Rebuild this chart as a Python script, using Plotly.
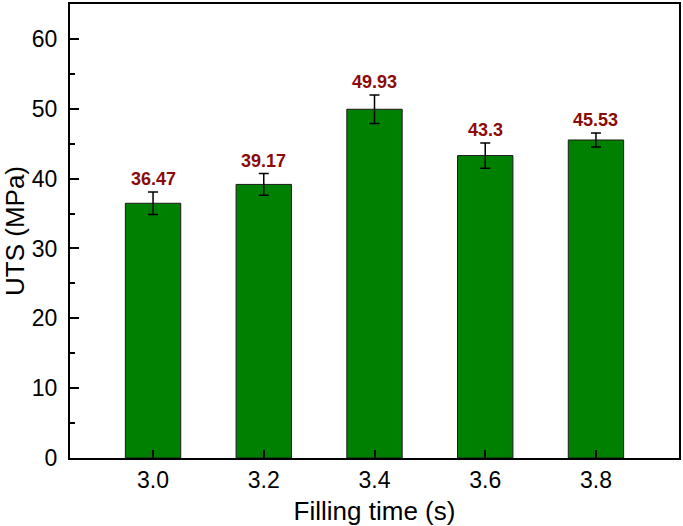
import plotly.graph_objects as go

filling_time = [3.0, 3.2, 3.4, 3.6, 3.8]
tick_text = ["3.0", "3.2", "3.4", "3.6", "3.8"]
uts = [36.47, 39.17, 49.93, 43.3, 45.53]
uts_err = [1.6, 1.55, 2.03, 1.8, 1.0]
labels = ["36.47", "39.17", "49.93", "43.3", "45.53"]

fig = go.Figure()
fig.add_trace(go.Bar(
    x=filling_time, y=uts, width=0.1,
    marker=dict(color="#008000", line=dict(color="#1a1a1a", width=1)),
    error_y=dict(type="data", array=uts_err, visible=True, color="black", thickness=1.5, width=5),
    showlegend=False,
))
for xv, yv, ev, lab in zip(filling_time, uts, uts_err, labels):
    fig.add_annotation(x=xv, y=yv + ev, text="<b>" + lab + "</b>", showarrow=False,
                       yanchor="bottom", yshift=1,
                       font=dict(family="Liberation Sans, Arial", size=18, color="#8B0A0A"))

fig.update_layout(
    width=683, height=526,
    margin=dict(l=70, r=2, t=3, b=68),
    paper_bgcolor="white", plot_bgcolor="white",
    font=dict(family="Liberation Sans, Arial", color="black"),
    xaxis=dict(
        range=[2.85, 3.95], tickvals=filling_time, ticktext=tick_text,
        ticks="inside", ticklen=8, tickwidth=1.5, tickcolor="black",
        showline=True, linecolor="black", linewidth=2, mirror=True,
        showgrid=False, zeroline=False,
        tickfont=dict(size=23),
        title=dict(text="Filling time (s)", font=dict(size=26), standoff=10),
    ),
    yaxis=dict(
        range=[0, 65], dtick=10, tick0=0,
        ticks="inside", ticklen=9, tickwidth=1.5, tickcolor="black",
        minor=dict(dtick=5, ticks="inside", ticklen=5, tickwidth=1.5, tickcolor="black"),
        showline=True, linecolor="black", linewidth=2, mirror=True,
        showgrid=False, zeroline=False,
        tickfont=dict(size=23), ticklabelstandoff=6,
        title=dict(text="UTS (MPa)", font=dict(size=26), standoff=6),
    ),
)
fig.write_html("out.html")
